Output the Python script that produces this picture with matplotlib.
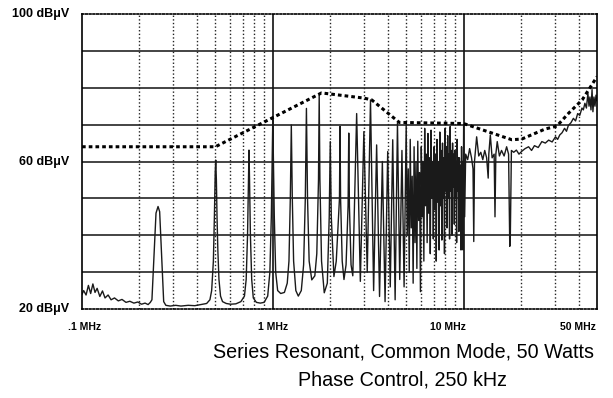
import matplotlib.pyplot as plt

plt.rcParams['font.family'] = ['Liberation Sans', 'DejaVu Sans']

low_freq = [0.100, 0.102, 0.105, 0.108, 0.111, 0.114, 0.117, 0.120, 0.124, 0.128, 0.132, 0.137,
            0.142, 0.148, 0.155, 0.162, 0.170, 0.178, 0.187, 0.196, 0.205, 0.214, 0.222, 0.228,
            0.2325, 0.2392, 0.2442, 0.2503, 0.2552, 0.2605, 0.2679, 0.275,
            0.29, 0.31, 0.33, 0.36, 0.39, 0.42, 0.45, 0.468]
low_db = [24.0, 25.0, 23.8, 26.4, 24.2, 26.8, 24.5, 25.6, 23.4, 24.9, 23.0, 23.8,
          22.5, 23.0, 22.2, 22.6, 21.8, 22.1, 21.6, 21.9, 21.3, 21.6, 21.2, 21.8,
          22.5, 36.0, 46.0, 47.8, 46.4, 36.0, 22.0, 21.0,
          20.8, 21.0, 20.8, 21.0, 20.9, 21.2, 21.5, 22.5]

mid_freq = [0.478, 0.488, 0.494, 0.499, 0.502, 0.506, 0.510, 0.515, 0.522, 0.532, 0.545,
            0.57, 0.60, 0.64, 0.68, 0.71,
            0.725, 0.737, 0.745, 0.750, 0.755, 0.763, 0.775, 0.79,
            0.82, 0.86, 0.90, 0.94,
            0.965, 0.982, 0.994, 1.0, 1.006, 1.018, 1.035, 1.06,
            1.10, 1.15, 1.19,
            1.215, 1.235, 1.25, 1.265, 1.285, 1.32,
            1.36, 1.41,
            1.45, 1.48, 1.50, 1.52, 1.55,
            1.60, 1.66,
            1.70, 1.735, 1.75, 1.765, 1.80,
            1.86, 1.93,
            1.975, 2.0, 2.025,
            2.09, 2.15,
            2.235, 2.25, 2.265, 2.31,
            2.36, 2.42,
            2.48, 2.50, 2.52, 2.57]
mid_db = [25, 33, 45, 57, 60.4, 55, 45, 36, 28, 23.5, 22,
          21.5, 21.3, 21.4, 22, 23.5,
          28, 40, 55, 63.1, 55, 40, 28, 23,
          21.8, 21.6, 21.8, 23.5,
          30, 45, 62, 72.2, 62, 45, 30, 25,
          24.2, 24.5, 27,
          33, 50, 69.9, 50, 33, 25,
          23.5, 25,
          32, 50, 74.4, 50, 33,
          27.9, 29,
          35, 55, 78.0, 55, 33,
          24.4, 27,
          45, 65.4, 45,
          28.8, 33,
          50, 69.5, 50, 33,
          28, 32,
          48, 67.7, 48, 32]

dense_freq = [2.625, 2.75, 2.875, 3.0, 3.125, 3.25, 3.375, 3.5, 3.625, 3.75, 3.875, 4.0,
              4.125, 4.25, 4.375, 4.5, 4.625, 4.75, 4.875]
dense_db = [29, 73, 27.5, 68.1, 30, 76.7, 25, 64.5, 23.4, 60, 22, 62.7,
            26, 65.9, 22.5, 70.4, 28, 63, 26]

# 5-10 MHz, where the harmonics pile up into a dark band
band_freq = [5.0, 5.0625, 5.125, 5.1875, 5.25, 5.3125, 5.375, 5.4375,
             5.5, 5.5625, 5.625, 5.6875, 5.75, 5.8125, 5.875, 5.9375,
             6.0, 6.0625, 6.125, 6.1875, 6.25, 6.3125, 6.375, 6.4375,
             6.5, 6.5625, 6.625, 6.6875, 6.75, 6.8125, 6.875, 6.9375,
             7.0, 7.0625, 7.125, 7.1875, 7.25, 7.3125, 7.375, 7.4375,
             7.5, 7.5625, 7.625, 7.6875, 7.75, 7.8125, 7.875, 7.9375,
             8.0, 8.0625, 8.125, 8.1875, 8.25, 8.3125, 8.375, 8.4375,
             8.5, 8.5625, 8.625, 8.6875, 8.75, 8.8125, 8.875, 8.9375,
             9.0, 9.0625, 9.125, 9.1875, 9.25, 9.3125, 9.375, 9.4375,
             9.5, 9.5625, 9.625, 9.6875, 9.75, 9.8125, 9.875, 9.9375, 10.0]
band_db = [70, 40, 58, 30, 66, 42, 56, 27,
           64, 38, 60, 31, 65.5, 44, 57, 24.7,
           64, 45, 60, 33, 69, 48, 62, 38,
           67.6, 46, 61, 35, 68.5, 50, 60, 39,
           64, 47, 62, 33, 66, 49, 60, 36,
           68, 48, 63, 38.7, 65, 50, 61, 35,
           69, 52, 64, 42, 67, 50, 62, 39,
           69.5, 52, 63, 40, 65, 53, 62, 43,
           63, 50, 60, 38, 66, 52, 61, 41,
           61, 48, 59, 36, 64, 50, 60, 36, 70]

high_freq = [10.125, 10.25, 10.5, 10.75, 11.0, 11.2, 11.3, 11.4, 11.7, 12.0, 12.3, 12.6,
             12.9, 13.2, 13.45, 13.55, 13.8, 14.1, 14.45, 14.6, 14.75, 15.0, 15.4, 15.8,
             16.3, 16.8, 17.2, 17.45, 17.55, 17.8, 18.3, 18.9, 19.5, 20.2, 21.0, 21.9,
             22.7, 23.5, 24.6, 25.7, 26.8, 27.9, 29.1, 30.3, 31.1, 31.9, 32.8, 33.8,
             34.6, 35.4, 36.5, 37.6, 38.6, 39.6, 40.6, 41.7, 42.4, 43.2, 44.0, 44.8,
             45.4, 45.9, 46.5, 47.1, 47.6, 48.2, 48.8, 49.4, 50.0]
high_db = [45, 62, 60.5, 63.5, 61, 58, 38.3, 60, 66.7, 61.5, 62.5, 60.5,
           63, 61, 55.5, 62, 67.2, 61, 62, 45, 62, 65.4, 61.5, 63,
           61.5, 64, 62, 37, 38, 63, 62.5, 63.1, 62, 62.8, 63.5, 64,
           63, 64.3, 63.8, 65.4, 65, 65.8, 65.3, 66.7, 66, 67.2, 67.8, 69,
           68.2, 69.8, 70.5, 71.7, 71, 73, 72.5, 74.5, 74, 75.8, 74.5, 78.5,
           75, 77.5, 74, 79.5, 73.5, 77.5, 75, 78, 76.5]

# dotted envelope line
limit_freq = [0.1, 0.5, 1.8, 3.0, 3.3, 4.6, 10.0, 17.9, 20.2, 26.7, 30.8, 35.5, 41.8, 50.0]
limit_db = [64.0, 64.0, 78.6, 77.2, 76.7, 70.6, 70.3, 65.9, 66.1, 68.8, 69.6, 73.1, 76.7, 83.0]

y_labels = ['100 dB\u03bcV', '60 dB\u03bcV', '20 dB\u03bcV']
y_label_pos = [100, 60, 20]
x_labels = ['.1 MHz', '1 MHz', '10 MHz', '50 MHz']
x_label_pos = [0.1, 1, 10, 50]
x_label_shift = [2, 0, -11, -14]

major_x = [1, 10]
minor_x = [0.2, 0.3, 0.4, 0.5, 0.6, 0.7, 0.8, 0.9,
           2, 3, 4, 5, 6, 7, 8, 9, 20, 30, 40]
grid_y = [30, 40, 50, 60, 70, 80, 90]

fig = plt.figure(figsize=(6.13, 3.98), dpi=100)
ax = fig.add_axes([0.1338, 0.2236, 0.8401, 0.7412])
ax.set_xscale('log')
ax.set_xlim(0.1, 50)
ax.set_ylim(20, 100)

for yv in grid_y:
    ax.axhline(yv, color='#111111', lw=1.1, zorder=1)
for xv in major_x:
    ax.axvline(xv, color='#111111', lw=1.2, zorder=1)
for xv in minor_x:
    ax.axvline(xv, color='#222222', lw=1.0, ls=(0, (1, 1.6)), zorder=1)

trace_f = low_freq + mid_freq + dense_freq + band_freq + high_freq
trace_v = low_db + mid_db + dense_db + band_db + high_db
ax.plot(trace_f, trace_v, color='#1a1a1a', lw=1.0, zorder=2)
ax.plot(limit_freq, limit_db, color='black', lw=2.2, ls=(0, (1.2, 1.0)), zorder=3)

ax.set_xticks([])
ax.set_yticks([])
ax.minorticks_off()
for side in ['left', 'right']:
    ax.spines[side].set_linewidth(1.2)
for side in ['top', 'bottom']:
    ax.spines[side].set_linestyle((0, (1, 1.2)))
    ax.spines[side].set_linewidth(1.2)

for lab, yv in zip(y_labels, y_label_pos):
    ax.annotate(lab, xy=(0, yv), xycoords=('axes fraction', 'data'),
                xytext=(-9, 0), textcoords='offset points',
                ha='right', va='center', fontsize=9, fontweight='bold')
for lab, xv, dx in zip(x_labels, x_label_pos, x_label_shift):
    ax.annotate(lab, xy=(xv, 0), xycoords=('data', 'axes fraction'),
                xytext=(dx, -9), textcoords='offset points',
                ha='center', va='top', fontsize=7.5, fontweight='bold')

fig.text(0.659, 0.1156, 'Series Resonant, Common Mode, 50 Watts',
         ha='center', va='center', fontsize=14.2)
fig.text(0.657, 0.0452, 'Phase Control, 250 kHz',
         ha='center', va='center', fontsize=14.2)

fig.savefig('out.png', dpi=100)
